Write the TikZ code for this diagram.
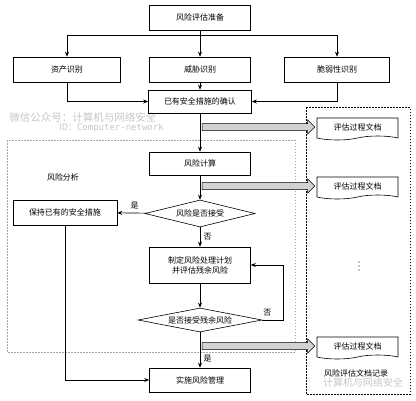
\documentclass[tikz,border=0pt]{standalone}
\usepackage{fontspec}
\setmainfont{Noto Sans CJK SC}
\newfontfamily\wmmono{DejaVu Sans Mono}
\usetikzlibrary{arrows.meta,calc,shapes.geometric,shapes.symbols}
\begin{document}
\begin{tikzpicture}[x=1pt,y=-1pt,line width=0.6pt,font=\fontsize{8}{10}\selectfont,
  box/.style={draw,minimum width=101pt,minimum height=25pt,inner sep=1pt,align=center},
  dec/.style={draw,diamond,aspect=4,inner sep=0pt,minimum width=110pt,minimum height=27pt},
  doc/.style={draw,tape,tape bend top=none,tape bend height=4pt,minimum width=81pt,minimum height=22pt,inner sep=1pt},
  arr/.style={-{Stealth[length=5pt,width=4pt]}},
  fat/.style={draw,fill=gray!35,line width=0.5pt},
  frame/.style={dash pattern=on 1.5pt off 1.5pt}]
  \useasboundingbox (0,0) rectangle (416,400);
  % frames
  \draw[frame,gray!70] (7,140) rectangle (295,352);
  \draw[frame] (306,107) rectangle (410,394);
  % watermark
  \node[gray!45,font=\fontsize{10.5}{11}\selectfont,anchor=west,inner sep=0pt] (wm1) at (9,117) {微信公众号：计算机与网络安全};
  \node[gray!45,anchor=east,inner sep=0pt] (wm2) at (164,128) {\fontsize{9}{10}\selectfont ID：\wmmono Computer-network};
  % steps
  \node[box] (prep) at (200,17.5) {风险评估准备};
  \node[box,minimum width=107pt] (asset) at (67,69.5) {资产识别};
  \node[box] (threat) at (200,69.5) {威胁识别};
  \node[box,minimum width=105pt] (vuln) at (337,69.5) {脆弱性识别};
  \node[box,minimum width=103pt,minimum height=23pt] (confirm) at (200,101.5) {已有安全措施的确认};
  \node[box,minimum height=23pt] (calc) at (200,163.5) {风险计算};
  \node[dec] (acc) at (200,213.5) {风险是否接受};
  \node[box,minimum width=104pt] (keep) at (65,212.5) {保持已有的安全措施};
  \node[box,minimum height=36pt] (plan) at (200,265) {制定风险处理计划\\并评估残余风险};
  \node[dec,minimum width=124pt,minimum height=24pt] (res) at (200,320) {是否接受残余风险};
  \node[box,minimum height=24pt] (impl) at (200,380) {实施风险管理};
  \node (area) at (63,177) {风险分析};
  % documents
  \node[doc] (d1) at (357.5,127) {评估过程文档};
  \node[doc] (d2) at (357.5,186) {评估过程文档};
  \node[doc] (d3) at (357.5,346) {评估过程文档};
  \foreach \k in {262,266,270}
    \fill (359,\k) circle (0.7pt);
  \node (record) at (356,373) {风险评估文档记录};
  \node[gray!45,font=\fontsize{10}{11}\selectfont] (wm3) at (363,383) {计算机与网络安全};
  % connectors
  \coordinate (split) at (200,35);
  \draw[arr] (prep) -- (threat);
  \draw[arr] (split) -| (asset);
  \draw[arr] (split) -| (vuln);
  \draw[arr] (threat) -- (confirm);
  \draw[arr] (asset) |- (confirm);
  \draw[arr] (vuln) |- (confirm);
  \draw[arr] (confirm) -- (calc);
  \draw[arr] (calc) -- (acc);
  \draw[arr] (acc) -- node[above,pos=0.4] {是} (keep);
  \draw[arr] (acc) -- node[right] {否} (plan);
  \draw[arr] (plan) -- (res);
  \draw[arr] (res.east) -- ++(21,0) node[above left,pos=0.6] {否} |- (plan.east);
  \draw[arr] (res) -- node[right,pos=0.75] {是} (impl);
  \draw[arr] (keep) |- (impl);
  % grey arrows to the records
  \foreach \d in {d1,d2,d3}
    \draw[fat] let \p1=(\d.west) in (202pt,\y1+3.5pt) -- (\x1-9pt,\y1+3.5pt) -- (\x1-9pt,\y1+7pt)
      -- (\x1-2pt,\y1) -- (\x1-9pt,\y1-7pt) -- (\x1-9pt,\y1-3.5pt) -- (202pt,\y1-3.5pt) -- cycle;
\end{tikzpicture}
\end{document}
